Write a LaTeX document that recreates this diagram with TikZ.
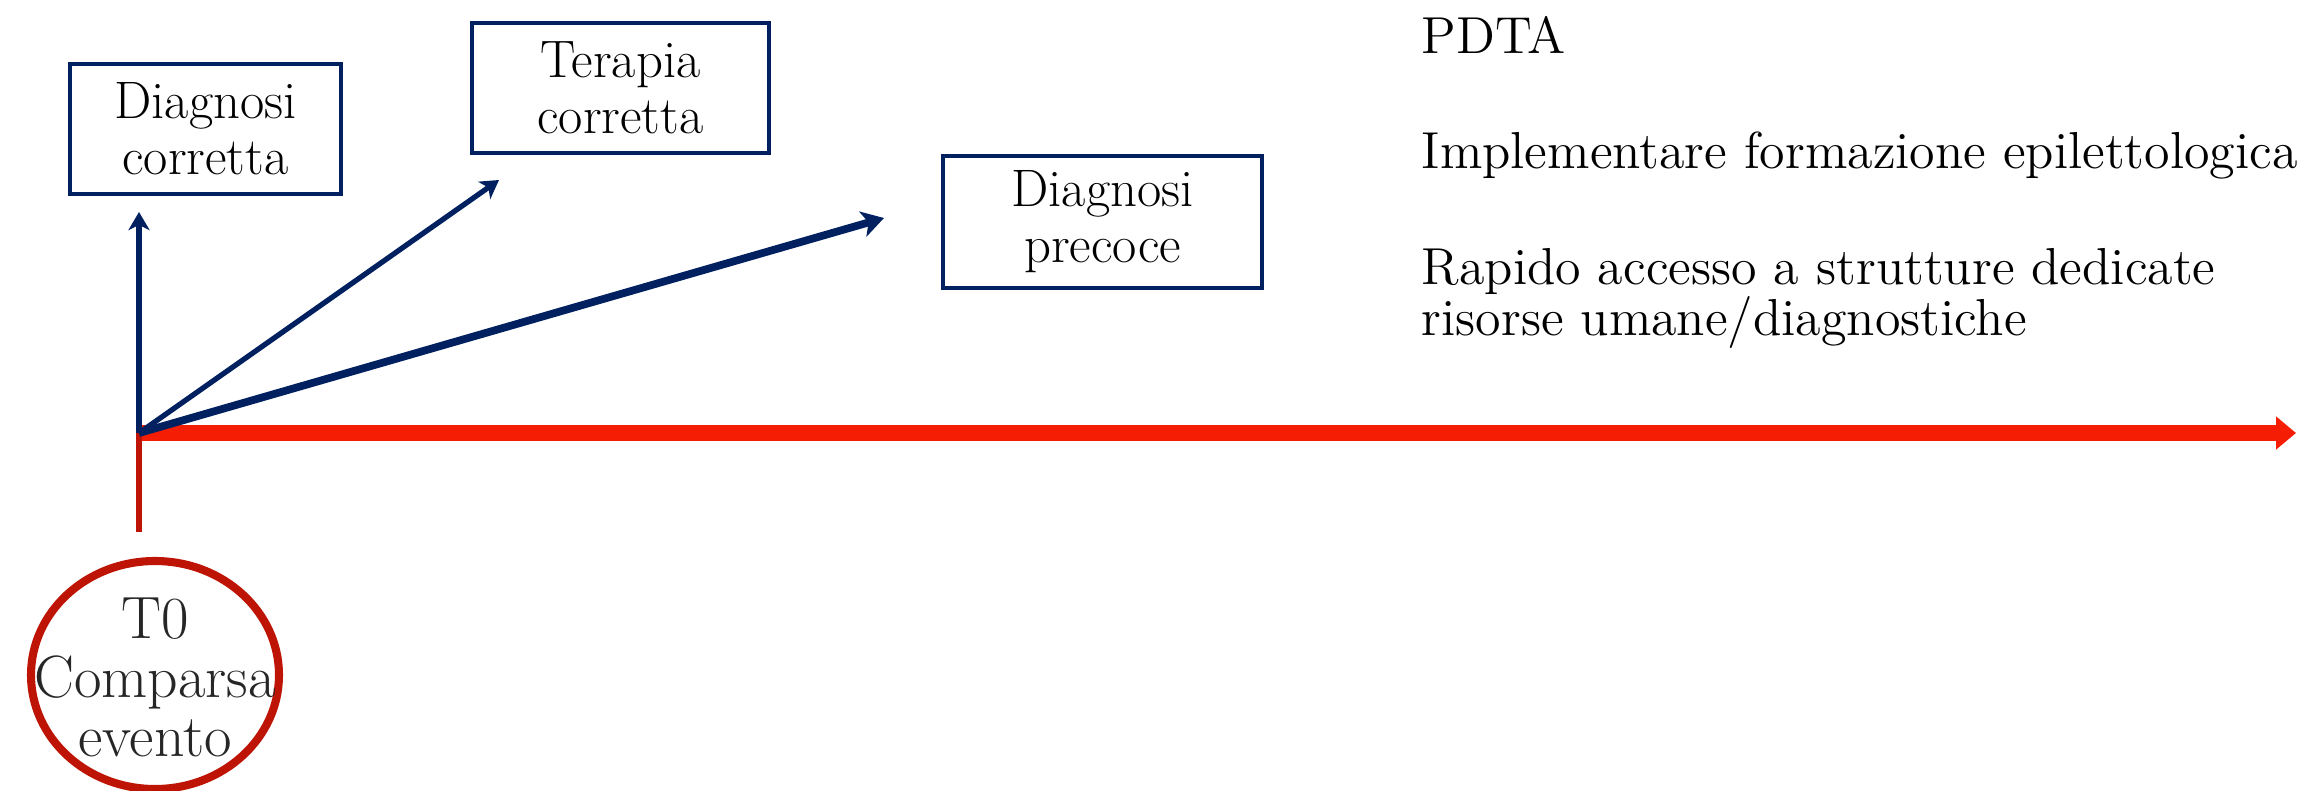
\documentclass[tikz,border=0pt]{standalone}
\usepackage{tikz}
\usetikzlibrary{arrows.meta,shapes.geometric,positioning}

\definecolor{navy}{RGB}{0,32,96}
\definecolor{timeline}{RGB}{245,30,5}
\definecolor{eventred}{RGB}{190,20,5}

\begin{document}
\begin{tikzpicture}[
    box/.style={draw=navy, line width=1.2pt, minimum width=2.71cm, minimum height=1.30cm,
                align=center, font=\fontsize{15}{16}\selectfont},
    note/.style={anchor=base west, inner sep=0pt, align=left, font=\fontsize{14.8}{14.4}\selectfont},
    event/.style={ellipse, draw=eventred, line width=2.3pt, minimum width=2.48cm, minimum height=2.28cm,
                  inner sep=0pt},
    eventtext/.style={align=center, inner sep=0pt, text=black!85, font=\fontsize{17}{16.8}\selectfont},
    path/.style={navy, line width=1.5pt, -{Stealth[length=1.8mm, width=2.1mm, inset=0.5mm]}}
]
    \useasboundingbox (0,0) rectangle (23.16,7.9);

    % Time line
    \coordinate (t0) at (1.39,3.57);
    \coordinate (tend) at (22.96,3.57);
    \coordinate (tick) at (1.39,2.58);
    \draw[timeline, line width=4.8pt, -{Triangle[length=2mm, width=3.2mm]}] (t0) -- (tend);
    \draw[eventred, line width=1.7pt] (t0) -- (tick);

    % Event
    \node[event] (ev) at (1.55,1.15) {};
    \node[eventtext] (evlabel) at ([yshift=-0.02cm]ev.center) {T0\\Comparsa\\evento};

    % Goals
    \node[box] (dcorr) at (2.055,6.61) {Diagnosi\\corretta};
    \node[box, minimum width=2.97cm] (tcorr) at (6.205,7.02) {Terapia\\corretta};
    \node[box, minimum width=3.19cm, minimum height=1.32cm] (dprec) at (11.025,5.68) {Diagnosi\\precoce};

    \coordinate (up) at (1.39,5.78);
    \coordinate (mid) at (4.99,6.10);
    \coordinate (low) at (8.84,5.72);
    \draw[path] (t0) -- (up);
    \draw[path] (t0) -- (mid);
    \draw[path, line width=2.2pt, -{Stealth[length=2.2mm, width=2.6mm, inset=0.6mm]}] (t0) -- (low);

    % Notes
    \node[note] (pdta) at (14.21,7.37) {PDTA};
    \node[note] (form) at (14.21,6.22) {Implementare formazione epilettologica};
    \node[note] (acc) at (14.21,4.55) {Rapido accesso a strutture dedicate\\risorse umane/diagnostiche};

\end{tikzpicture}
\end{document}
